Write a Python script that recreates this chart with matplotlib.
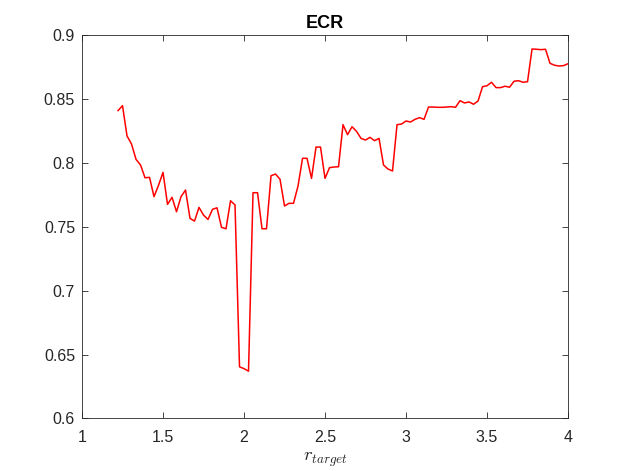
import numpy as np
import matplotlib
matplotlib.use("Agg")
import matplotlib.pyplot as plt

plt.rcParams['font.family'] = ['Liberation Sans', 'DejaVu Sans']
plt.rcParams['mathtext.fontset'] = 'cm'

# data
r_start, r_end, n_pts = 1.2222, 4.0, 101
r_target = np.linspace(r_start, r_end, n_pts)
ecr = [
    0.8408, 0.8447, 0.8210, 0.8147, 0.8027, 0.7983, 0.7883, 0.7886, 0.7735, 0.7824,
    0.7925, 0.7675, 0.7730, 0.7617, 0.7735, 0.7787, 0.7565, 0.7544, 0.7651, 0.7591,
    0.7557, 0.7636, 0.7648, 0.7495, 0.7484, 0.7703, 0.7670, 0.6404, 0.6390, 0.6370,
    0.7766, 0.7766, 0.7484, 0.7484, 0.7899, 0.7912, 0.7871, 0.7662, 0.7683, 0.7683,
    0.7818, 0.8035, 0.8035, 0.7878, 0.8123, 0.8123, 0.7878, 0.7962, 0.7967, 0.7969,
    0.8298, 0.8220, 0.8282, 0.8246, 0.8191, 0.8178, 0.8199, 0.8173, 0.8191, 0.7983,
    0.7951, 0.7936, 0.8298, 0.8303, 0.8327, 0.8319, 0.8340, 0.8353, 0.8340, 0.8436,
    0.8436, 0.8434, 0.8434, 0.8436, 0.8439, 0.8434, 0.8486, 0.8468, 0.8476, 0.8458,
    0.8483, 0.8595, 0.8603, 0.8630, 0.8588, 0.8588, 0.8599, 0.8591, 0.8638, 0.8642,
    0.8630, 0.8634, 0.8890, 0.8888, 0.8885, 0.8888, 0.8778, 0.8763, 0.8757, 0.8760,
    0.8775,
]
x_ticks = [1, 1.5, 2, 2.5, 3, 3.5, 4]
x_tick_labels = ['1', '1.5', '2', '2.5', '3', '3.5', '4']
y_ticks = [0.6, 0.65, 0.7, 0.75, 0.8, 0.85, 0.9]
y_tick_labels = ['0.6', '0.65', '0.7', '0.75', '0.8', '0.85', '0.9']
title = 'ECR'
xlabel = r'$r_{target}$'

fig = plt.figure(figsize=(6.28, 4.71), dpi=100)
ax = fig.add_axes([0.1306, 0.1115, 0.7739, 0.8143])
ax.plot(r_target, ecr, color='#ff0000', lw=1.1)
ax.set_xlim(1, 4)
ax.set_ylim(0.6, 0.9)
ax.set_xticks(x_ticks)
ax.set_xticklabels(x_tick_labels)
ax.set_yticks(y_ticks)
ax.set_yticklabels(y_tick_labels)
axis_col = '#262626'
for s in ax.spines.values():
    s.set_color(axis_col)
    s.set_linewidth(0.6)
ax.tick_params(direction='in', length=4, width=0.6, colors=axis_col,
               labelsize=11.5, top=True, right=True, pad=5)
ax.tick_params(axis='x', pad=8)
ax.set_title(title, fontsize=13, fontweight='bold', color='black', pad=5)
ax.set_xlabel(xlabel, fontsize=13.5, color=axis_col, labelpad=4)
fig.savefig('out.png', dpi=100, facecolor='white')
